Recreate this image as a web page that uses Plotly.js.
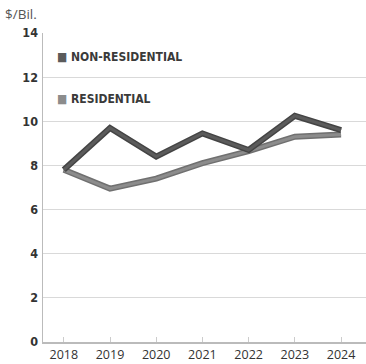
<!DOCTYPE html>
<html><head><meta charset="utf-8">
<script src="https://cdn.plot.ly/plotly-3.0.1.min.js"></script>
<style>html,body{margin:0;padding:0;background:#fff;}#chart{width:366px;height:364px;}</style>
</head><body><div id="chart"></div>
<script>
const years = [2018, 2019, 2020, 2021, 2022, 2023, 2024];
const nonResidential = [7.8, 9.7, 8.4, 9.45, 8.7, 10.25, 9.6];
const residential = [7.8, 6.95, 7.4, 8.1, 8.65, 9.3, 9.4];
const seriesNames = ["NON-RESIDENTIAL", "RESIDENTIAL"];
const seriesColors = ["#5b5b5b", "#8c8c8c"];
const yTicks = [0, 2, 4, 6, 8, 10, 12, 14];

const traces = [
  {x: years, y: residential, mode: "lines", line: {color: "#707070", width: 6}, hoverinfo: "skip", showlegend: false},
  {x: years, y: residential, mode: "lines", line: {color: seriesColors[1], width: 3}, name: seriesNames[1], showlegend: false},
  {x: years, y: nonResidential, mode: "lines", line: {color: "#444", width: 6}, hoverinfo: "skip", showlegend: false},
  {x: years, y: nonResidential, mode: "lines", line: {color: seriesColors[0], width: 3}, name: seriesNames[0], showlegend: false}
];

const condFont = "'DejaVu Sans Condensed', 'DejaVu Sans', sans-serif";
const legendFont = {family: condFont, size: 12, color: "#3a3a3a", weight: "bold"};
const layout = {
  width: 366, height: 364,
  margin: {l: 43, r: 0, t: 33, b: 22},
  paper_bgcolor: "#fff", plot_bgcolor: "#fff",
  showlegend: false,
  xaxis: {
    range: [2017.55, 2024.54],
    tickvals: years, ticktext: years.map(String),
    showgrid: false, zeroline: false,
    showline: true, linecolor: "#bbb", linewidth: 1.5,
    ticks: "inside", ticklen: 5, tickcolor: "#ccc",
    tickfont: {family: "'Open Sans', sans-serif", size: 12.5, color: "#333"}
  },
  yaxis: {
    range: [0, 14], tickvals: yTicks,
    showgrid: true, gridcolor: "#d9d9d9", gridwidth: 1,
    zeroline: false, showline: true, linecolor: "#bbb", linewidth: 1.5,
    ticks: "", ticklabelstandoff: 1,
    tickfont: {family: condFont, size: 12.5, color: "#333", weight: "bold"}
  },
  annotations: [
    {xref: "paper", yref: "paper", x: -40/323, y: 1 + 19/309, xanchor: "left", yanchor: "middle", showarrow: false,
     text: "$/Bil.", font: {family: "'Open Sans', sans-serif", size: 13.5, color: "#555"}},
    {xref: "paper", yref: "y", x: 12/323, y: 12.9, xanchor: "left", yanchor: "middle", showarrow: false,
     text: "<span style='color:" + seriesColors[0] + "'>■</span> " + seriesNames[0], font: legendFont},
    {xref: "paper", yref: "y", x: 12/323, y: 11.0, xanchor: "left", yanchor: "middle", showarrow: false,
     text: "<span style='color:" + seriesColors[1] + "'>■</span> " + seriesNames[1], font: legendFont}
  ]
};
Plotly.newPlot("chart", traces, layout, {displayModeBar: false, staticPlot: true});
</script></body></html>
